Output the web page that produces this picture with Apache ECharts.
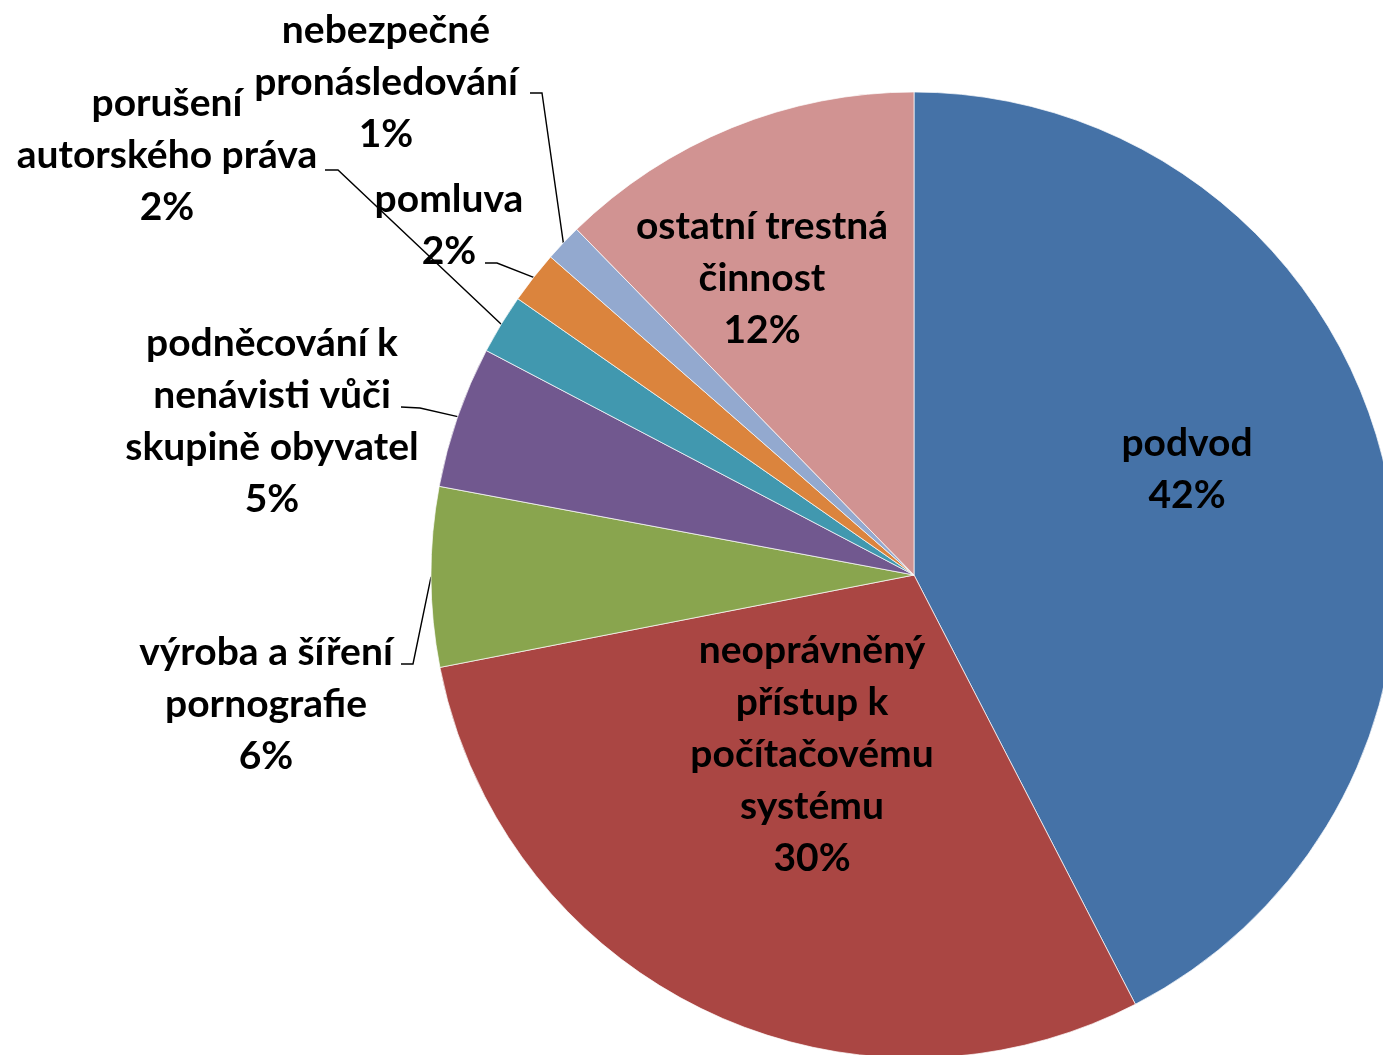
<!DOCTYPE html>
<html>
<head>
<meta charset="utf-8">
<script src="https://cdn.jsdelivr.net/npm/echarts@6/dist/echarts.min.js"></script>
<style>
    html, body { margin: 0; padding: 0; background: #fff; }
    #crime-pie { width: 1383px; height: 1055px; }
</style>
</head>
<body>
<div id="crime-pie"></div>
<script>
    // kategorie trestné činnosti (po směru hodinových ručiček od 12 hodin)
    var categories = [
        'podvod',
        'neoprávněný přístup k počítačovému systému',
        'výroba a šíření pornografie',
        'podněcování k nenávisti vůči skupině obyvatel',
        'porušení autorského práva',
        'pomluva',
        'nebezpečné pronásledování',
        'ostatní trestná činnost'
    ];
    // podíly
    var shares = [42.4, 29.5, 6.0, 4.75, 2.0, 1.75, 1.25, 12.3];
    // zalomení popisků
    var labelTexts = [
        'podvod',
        'neoprávněný\npřístup k\npočítačovému\nsystému',
        'výroba a šíření\npornografie',
        'podněcování k\nnenávisti vůči\nskupině obyvatel',
        'porušení\nautorského práva',
        'pomluva',
        'nebezpečné\npronásledování',
        'ostatní trestná\nčinnost'
    ];
    var colors = ['#4572A7', '#AA4643', '#89A54E', '#71588F', '#4198AF', '#DB843D', '#93A9CF', '#D19392'];
    var insideIdx = [0, 1, 7];

    // umístění popisků (střed textu) a vodicích čar
    var labelPos = {
        0: [1187, 469],
        1: [812, 754],
        2: [266, 704],
        3: [272, 421],
        4: [167, 155],
        5: [449, 225],
        6: [386, 82],
        7: [762, 278]
    };
    var leaders = {
        2: { anchor: [401, 664], bend: [413, 664] },
        3: { anchor: [401, 407], bend: [420, 408] },
        4: { anchor: [325, 170], bend: [338, 170] },
        5: { anchor: [485, 263], bend: [497, 263] },
        6: { anchor: [530, 93], bend: [542, 93] }
    };

    var chart = echarts.init(document.getElementById('crime-pie'));

    var pieData = categories.map(function (name, i) {
        var inside = insideIdx.indexOf(i) >= 0;
        return {
            name: name,
            value: shares[i],
            itemStyle: { color: colors[i] },
            label: { position: inside ? 'inside' : 'outside' },
            labelLine: { show: !inside }
        };
    });

    chart.setOption({
        animation: false,
        series: [{
            type: 'pie',
            center: [914, 575],
            radius: 483,
            startAngle: 90,
            clockwise: true,
            avoidLabelOverlap: false,
            percentPrecision: 0,
            data: pieData,
            itemStyle: {
                borderColor: '#ffffff',
                borderWidth: 0.7
            },
            label: {
                formatter: function (p) {
                    return labelTexts[p.dataIndex] + '\n' + p.percent + '%';
                },
                color: '#000',
                fontFamily: 'Lato, "Open Sans", sans-serif',
                fontWeight: 'bold',
                fontSize: 39,
                lineHeight: 52,
                align: 'center',
                overflow: 'none',
                alignTo: 'none'
            },
            labelLine: {
                length: 15,
                length2: 12,
                lineStyle: { color: '#000', width: 1.4 }
            },
            labelLayout: function (params) {
                var i = params.dataIndex;
                var p = labelPos[i];
                var out = { x: p[0], y: p[1], align: 'center', verticalAlign: 'middle' };
                if (leaders[i] && params.labelLinePoints) {
                    out.labelLinePoints = [params.labelLinePoints[0], leaders[i].bend, leaders[i].anchor];
                }
                return out;
            }
        }]
    });
</script>
</body>
</html>
